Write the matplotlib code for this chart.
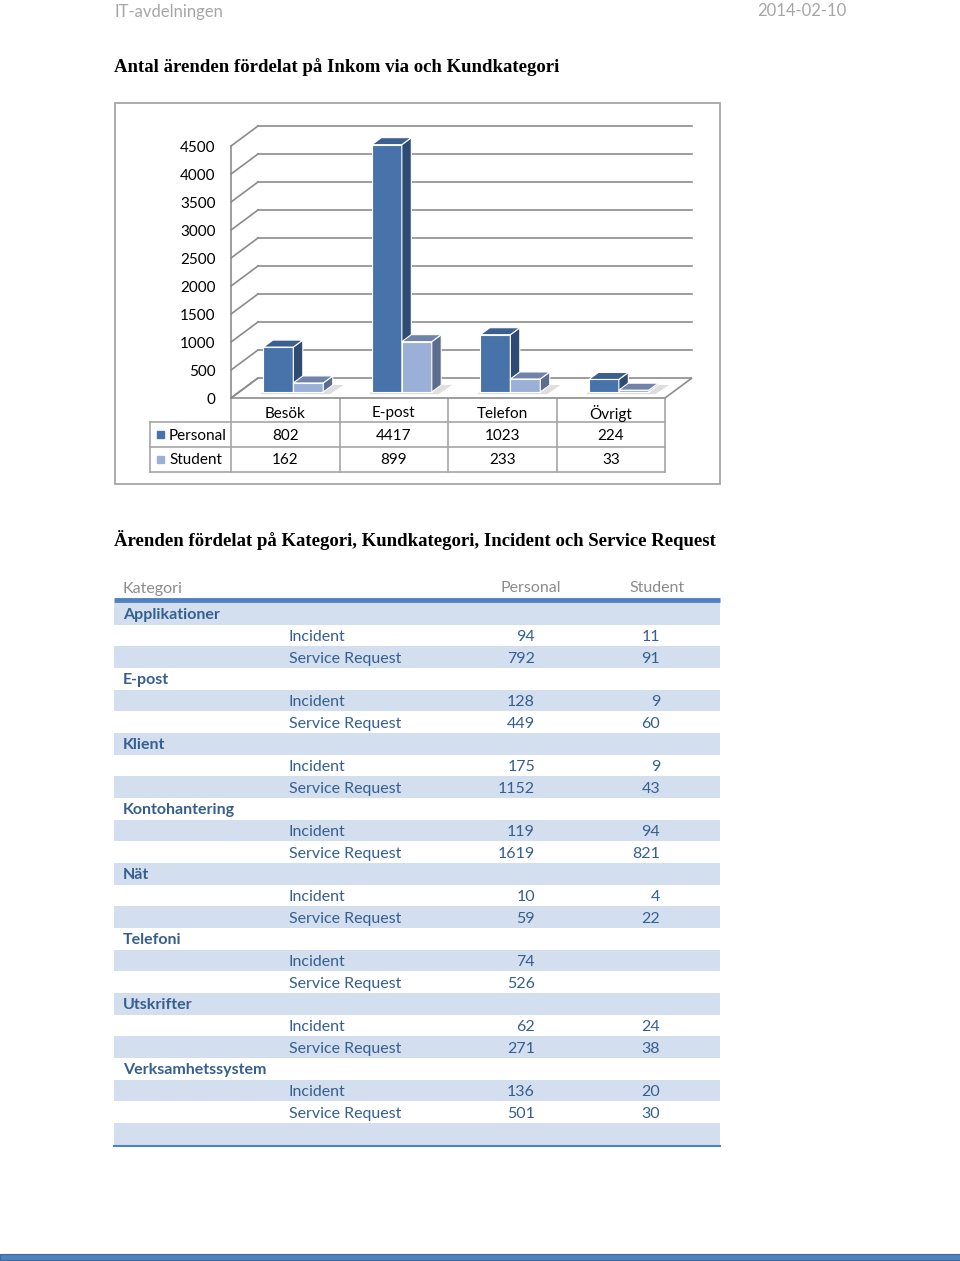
import numpy as np
import matplotlib
matplotlib.use("Agg")
from matplotlib import pyplot as plt
from matplotlib.patches import Rectangle

# Chart data
channels = ["Besök", "E-post", "Telefon", "Övrigt"]
personal = [802, 4417, 1023, 224]
student = [162, 899, 233, 33]
y_ticks = [0, 500, 1000, 1500, 2000, 2500, 3000, 3500, 4000, 4500]

# Table data
kategorier = ["Applikationer", "E-post", "Klient", "Kontohantering", "Nät",
              "Telefoni", "Utskrifter", "Verksamhetssystem"]
incident_personal = [94, 128, 175, 119, 10, 74, 62, 136]
incident_student = [11, 9, 9, 94, 4, None, 24, 20]
request_personal = [792, 449, 1152, 1619, 59, 526, 271, 501]
request_student = [91, 60, 43, 821, 22, None, 38, 30]

SANS = "Lato"
SERIF = "Liberation Serif"
BLUE_TXT = "#365F91"
GRID = "#8C8C8C"
TY = 1.5  # small baseline nudge for text

fig = plt.figure(figsize=(9.6, 12.61), dpi=100)
page = fig.add_axes([0, 0, 1, 1])
page.set_xlim(0, 960)
page.set_ylim(1261, 0)
page.axis("off")

# page header / footer
page.text(114, 10 + TY, "IT-avdelningen", fontsize=12, color="#A6A6A6", family=SANS, va="center")
page.text(846, 10 + TY, "2014-02-10", fontsize=12, color="#A6A6A6", family=SANS, va="center", ha="right")
page.add_patch(Rectangle((0, 1254), 960, 6, facecolor="#4F81BD", edgecolor="#3A6AA0", lw=0.8))

page.text(114, 66 + TY, "Antal ärenden fördelat på Inkom via och Kundkategori", fontsize=13.5,
          fontweight="bold", family=SERIF, va="center")
page.text(114, 539 + TY, "Ärenden fördelat på Kategori, Kundkategori, Incident och Service Request",
          fontsize=13.5, fontweight="bold", family=SERIF, va="center")

# chart frame
page.add_patch(Rectangle((115, 103), 605, 381, facecolor="white", edgecolor="#A6A6A6", lw=1.3))

# ---- pseudo 3D column chart ----
ax = fig.add_axes([231 / 960, (1261 - 398) / 1261, 434 / 960, 252 / 1261])
ax.set_xlim(-0.5, 3.5)
ax.set_ylim(0, 4500)
ax.patch.set_visible(False)
for s in ax.spines.values():
    s.set_visible(False)
ax.set_xticks([])
ax.set_yticks(y_ticks)
ax.set_yticklabels([str(v) for v in y_ticks], fontsize=11, family=SANS)
ax.tick_params(axis="y", length=0, pad=11)

DX = 27 / 108.5      # depth shift in category units
DY = 20 / 252 * 4500  # depth shift in value units
x0, x1 = -0.5, 3.5

# left wall + back wall grid
ax.plot([x0, x0], [0, 4500], color=GRID, lw=1.2, clip_on=False)
for v in y_ticks:
    ax.plot([x0, x0 + DX], [v, v + DY], color=GRID, lw=1.2, clip_on=False)
    if v > 0:
        ax.plot([x0 + DX, x1 + DX], [v + DY, v + DY], color=GRID, lw=1.2, clip_on=False)
# floor
ax.fill([x0, x1, x1 + DX, x0 + DX], [0, 0, DY, DY], facecolor="white",
        edgecolor=GRID, lw=1.2, clip_on=False, zorder=1)

bw = 0.276
front = 0.3
depth = 0.35
fdx, fdy = front * DX, front * DY
bdx, bdy = depth * DX, depth * DY
xs = np.arange(len(channels))

# soft shadows on the floor
for i in xs:
    ax.fill([i - bw + fdx - 0.03, i + bw + fdx + 0.06, i + bw + fdx + bdx + 0.1, i - bw + fdx + bdx],
            [fdy - 40, fdy - 40, fdy + bdy, fdy + bdy], color="#C8C8C8", alpha=0.6,
            lw=0, clip_on=False, zorder=1.5)

styles = [
    (personal, -bw, "#4773AA", "#2D4B73", "#3B6090"),
    (student, 0.0, "#9BB0D6", "#5C6C8C", "#7083A8"),
]
for vals, off, c_front, c_side, c_top in styles:
    left = xs + off + fdx
    ax.bar(left, vals, width=bw, bottom=fdy, align="edge", color=c_front,
           edgecolor="white", lw=0.8, clip_on=False, zorder=3)
    for xl, v in zip(left, vals):
        xr = xl + bw
        top = fdy + v
        ax.fill([xr, xr + bdx, xr + bdx, xr], [fdy, fdy + bdy, top + bdy, top],
                facecolor=c_side, edgecolor="white", lw=0.8, clip_on=False, zorder=3)
        ax.fill([xl, xr, xr + bdx, xl + bdx], [top, top, top + bdy, top + bdy],
                facecolor=c_top, edgecolor="white", lw=0.8, clip_on=False, zorder=3)

# data table under the chart
col_edges = [231, 339.5, 448, 556.5, 665]
tcol = "#A6A6A6"
page.plot([150, 665], [422, 422], color=tcol, lw=1.2)
page.plot([150, 665], [447, 447], color=tcol, lw=1.2)
page.plot([150, 665], [472, 472], color=tcol, lw=1.2)
page.plot([150, 150], [422, 472], color=tcol, lw=1.2)
for xe in col_edges:
    page.plot([xe, xe], [398, 472], color=tcol, lw=1.2)
for i, name in enumerate(channels):
    cx = (col_edges[i] + col_edges[i + 1]) / 2
    page.text(cx, 412 + TY, name, ha="center", va="center", fontsize=11, family=SANS)
    page.text(cx, 434 + TY, str(personal[i]), ha="center", va="center", fontsize=11, family=SANS)
    page.text(cx, 459 + TY, str(student[i]), ha="center", va="center", fontsize=11, family=SANS)
page.add_patch(Rectangle((157, 431), 7, 7, color="#4773AA"))
page.add_patch(Rectangle((157, 456), 7, 7, color="#9BB0D6"))
page.text(169, 434 + TY, "Personal", va="center", fontsize=11, family=SANS)
page.text(169, 459 + TY, "Student", va="center", fontsize=11, family=SANS)

# ---- category table ----
page.text(123, 587 + TY, "Kategori", fontsize=11.5, color="#8C8C8C", family=SANS, va="center")
page.text(531, 587 + TY, "Personal", fontsize=11.5, color="#8C8C8C", family=SANS, va="center", ha="center")
page.text(657, 587 + TY, "Student", fontsize=11.5, color="#8C8C8C", family=SANS, va="center", ha="center")
page.plot([114, 720], [600, 600], color="#4F81BD", lw=3.5, solid_capstyle="butt")

rows = []
for k in range(len(kategorier)):
    rows.append((kategorier[k], None, None, None))
    rows.append((None, "Incident", incident_personal[k], incident_student[k]))
    rows.append((None, "Service Request", request_personal[k], request_student[k]))
rows.append((None, None, None, None))

rh = 21.67
y0 = 603
for i, (cat, sub, vp, vs) in enumerate(rows):
    top = y0 + i * rh
    yc = top + rh / 2 + TY
    if i % 2 == 0:
        page.add_patch(Rectangle((114, top), 606, rh, facecolor="#D3DFEE", lw=0))
    if cat:
        page.text(123, yc, cat, fontsize=11.5, fontweight="bold", color=BLUE_TXT,
                  family=SANS, va="center")
    if sub:
        page.text(289, yc, sub, fontsize=11.5, color=BLUE_TXT, family=SANS, va="center")
    if vp is not None:
        page.text(535, yc, str(vp), fontsize=11.5, color=BLUE_TXT, family=SANS,
                  va="center", ha="right")
    if vs is not None:
        page.text(660, yc, str(vs), fontsize=11.5, color=BLUE_TXT, family=SANS,
                  va="center", ha="right")
page.plot([114, 720], [y0 + len(rows) * rh + 1, y0 + len(rows) * rh + 1],
          color="#4F81BD", lw=1.5)

fig.savefig("out.png", dpi=100)
